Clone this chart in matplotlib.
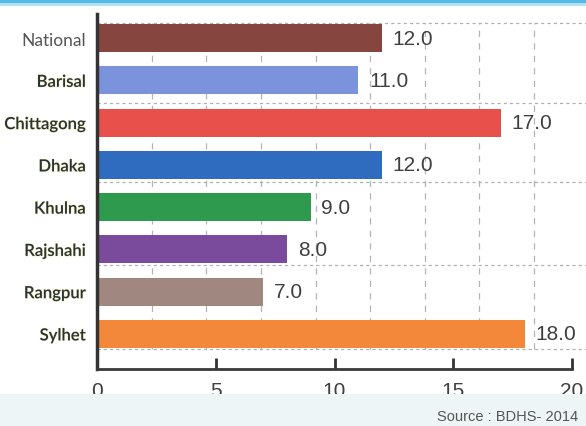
import matplotlib
matplotlib.use("Agg")
import matplotlib.pyplot as plt
import matplotlib.patheffects as pe
from matplotlib.patches import Rectangle

# Data
divisions = ["National", "Barisal", "Chittagong", "Dhaka", "Khulna", "Rajshahi", "Rangpur", "Sylhet"]
values = [12.0, 11.0, 17.0, 12.0, 9.0, 8.0, 7.0, 18.0]
bar_colors = ["#87453f", "#7b93dc", "#e8504b", "#2f6cc0", "#2e9a4d", "#7a4b9c", "#a0877f", "#f4883a"]
x_ticks = [0, 5, 10, 15, 20]
source_note = "Source : BDHS- 2014"

# Background guide lines (dashed lattice behind the bars)
grid_x = [2.3, 4.6, 6.9, 9.2, 11.5, 13.8, 16.1, 18.4]
grid_y = [7.35, 5.47, 3.6, 1.63, -0.35]

fig = plt.figure(figsize=(5.86, 4.27), dpi=100)
fig.patch.set_facecolor("white")

# top blue stripe and pale lower band
fig.patches.append(Rectangle((0, 1 - 4 / 427), 1, 4 / 427, transform=fig.transFigure,
                             facecolor="#55b9e8", edgecolor="none", zorder=0))
fig.patches.append(Rectangle((0, 1 - 7 / 427), 1, 3 / 427, transform=fig.transFigure,
                             facecolor="#b2e0f5", edgecolor="none", zorder=0))
fig.patches.append(Rectangle((0, 0), 1, 32 / 427, transform=fig.transFigure,
                             facecolor="#eef5f6", edgecolor="none", zorder=0))

ax = fig.add_axes([97 / 586, 57 / 427, 475 / 586, 355 / 427])
ax.set_facecolor("none")

n = len(divisions)
ypos = [n - 1 - i for i in range(n)]

# dashed lattice
ax.vlines(grid_x, grid_y[-1], grid_y[0], colors="#b4b4b4", linestyles=(0, (5, 5)),
          linewidth=0.9, zorder=1)
for gy in grid_y:
    ax.plot([0, 20.6], [gy, gy], color="#b0b0b0", linestyle=(0, (2.5, 2.5)),
            linewidth=0.9, clip_on=False, zorder=1)

ax.barh(ypos, values, height=0.66, color=bar_colors, edgecolor="none", zorder=2)

for y, v in zip(ypos, values):
    ax.text(v + 0.45, y, f"{v:.1f}", va="center", ha="left", fontsize=15,
            family="Liberation Sans", color="#3f3f3f", zorder=3)

ax.set_xlim(0, 20)
ax.set_ylim(-0.83, 7.57)

ax.set_xticks(x_ticks)
ax.set_xticklabels([str(t) for t in x_ticks], fontsize=15, family="Liberation Sans",
                   color="#3f3f3f")
ax.tick_params(axis="x", direction="in", length=8, width=2, color="#333333", pad=9)

ax.set_yticks(ypos)
ax.set_yticklabels(divisions)
ax.tick_params(axis="y", length=0, pad=8)
for i, lab in enumerate(ax.get_yticklabels()):
    lab.set_family("Lato")
    if i == 0:
        lab.set_fontsize(12.5)
        lab.set_color("#555555")
        lab.set_fontweight("normal")
    else:
        lab.set_fontsize(12)
        lab.set_color("#27333b")
        lab.set_fontweight("semibold")
        lab.set_path_effects([pe.withStroke(linewidth=0.7, foreground="#efe6a8")])

for side in ("top", "right"):
    ax.spines[side].set_visible(False)
ax.spines["left"].set_linewidth(2.5)
ax.spines["left"].set_color("#333333")
ax.spines["bottom"].set_linewidth(2)
ax.spines["bottom"].set_color("#3a3a3a")

fig.text(437 / 586, 10 / 427, source_note, fontsize=10.5, family="Liberation Sans",
         color="#555555", ha="left", va="center")

fig.savefig("out.png", dpi=100)
